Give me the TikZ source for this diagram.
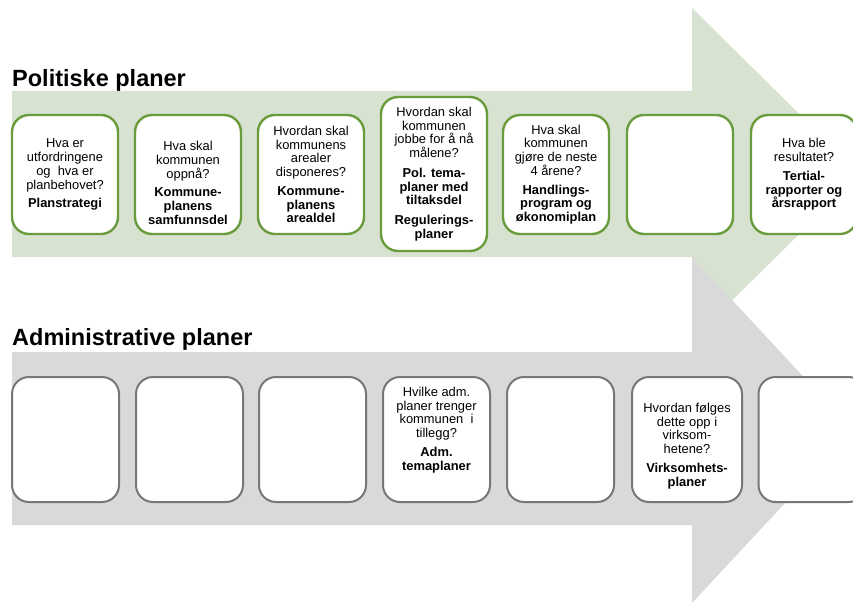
\documentclass[tikz,border=0pt]{standalone}
\usepackage{fontspec}
\setmainfont{Liberation Sans}
\definecolor{gfill}{HTML}{D7E2D0}
\definecolor{gline}{HTML}{6A9B3C}
\definecolor{afill}{HTML}{D9D9D9}
\definecolor{aline}{HTML}{777777}
\tikzset{
  gbox/.style={draw=gline, line width=2.4pt, fill=white, rounded corners=17pt,
    minimum width=106pt, minimum height=119pt, inner sep=0pt},
  abox/.style={draw=aline, line width=2pt, fill=white, rounded corners=17pt,
    minimum width=107pt, minimum height=125pt, inner sep=0pt},
  txt/.style={align=center, inner sep=0pt, font=\fontsize{12.9}{13.7}\selectfont},
  head/.style={anchor=base west, inner sep=0pt, font=\fontsize{23.5}{27}\selectfont\bfseries}
}
\begin{document}
\begin{tikzpicture}[x=1pt,y=-1pt]
\useasboundingbox (0,0) rectangle (853,607);
% arrows
\fill[gfill] (12,91) -- (692,91) -- (692,8) -- (860,174) -- (692,340) -- (692,257) -- (12,257) -- cycle;
\fill[afill] (12,352) -- (692,352) -- (692,257) -- (853,430) -- (692,603) -- (692,525) -- (12,525) -- cycle;
% headings
\node[head] (h1) at (12,87) {Politiske planer};
\node[head] (h2) at (12,345) {Administrative planer};
% top row
\node[gbox] (p1) at (65,174.5) {};
\node[gbox] (p2) at (188,174.5) {};
\node[gbox] (p3) at (311,174.5) {};
\node[gbox, minimum height=154pt] (p4) at (434,174) {};
\node[gbox] (p5) at (556,174.5) {};
\node[gbox] (p6) at (680,174.5) {};
\node[gbox] (p7) at (804,174.5) {};
\node[txt] (t1) at (p1.center) {Hva er\\utfordringene\\og~ hva er\\planbehovet?\\[4.5pt]\textbf{Planstrategi}};
\node[txt, yshift=-8.5pt] (t2) at (p2.center) {Hva skal\\kommunen\\oppnå?\\[5pt]\textbf{Kommune-}\\\textbf{planens}\\\textbf{samfunnsdel}};
\node[txt] (t3) at (p3.center) {Hvordan skal\\kommunens\\arealer\\disponeres?\\[5pt]\textbf{Kommune-}\\\textbf{planens}\\\textbf{arealdel}};
\node[txt] (t4) at (p4.center) {Hvordan skal\\kommunen\\jobbe for å nå\\målene?\\[6pt]\textbf{Pol. tema-}\\\textbf{planer med}\\\textbf{tiltaksdel}\\[6pt]\textbf{Regulerings-}\\\textbf{planer}};
\node[txt] (t5) at (p5.center) {Hva skal\\kommunen\\gjøre de neste\\4 årene?\\[5pt]\textbf{Handlings-}\\\textbf{program og}\\\textbf{økonomiplan}};
\node[txt] (t7) at (p7.center) {Hva ble\\resultatet?\\[5pt]\textbf{Tertial-}\\\textbf{rapporter og}\\\textbf{årsrapport}};
% bottom row
\node[abox] (a1) at (65.5,439.5) {};
\node[abox] (a2) at (189.5,439.5) {};
\node[abox] (a3) at (312.5,439.5) {};
\node[abox] (a4) at (436.5,439.5) {};
\node[abox] (a5) at (560.5,439.5) {};
\node[abox, minimum width=110pt] (a6) at (687,439.5) {};
\node[abox] (a7) at (812,439.5) {};
\node[txt, yshift=9.5pt] (b4) at (a4.center) {Hvilke adm.\\planer trenger\\kommunen~ i\\tillegg?\\[5pt]\textbf{Adm.}\\\textbf{temaplaner}};
\node[txt, yshift=-6.5pt] (b6) at (a6.center) {Hvordan følges\\dette opp i\\virksom-\\hetene?\\[5pt]\textbf{Virksomhets-}\\\textbf{planer}};
\end{tikzpicture}
\end{document}
